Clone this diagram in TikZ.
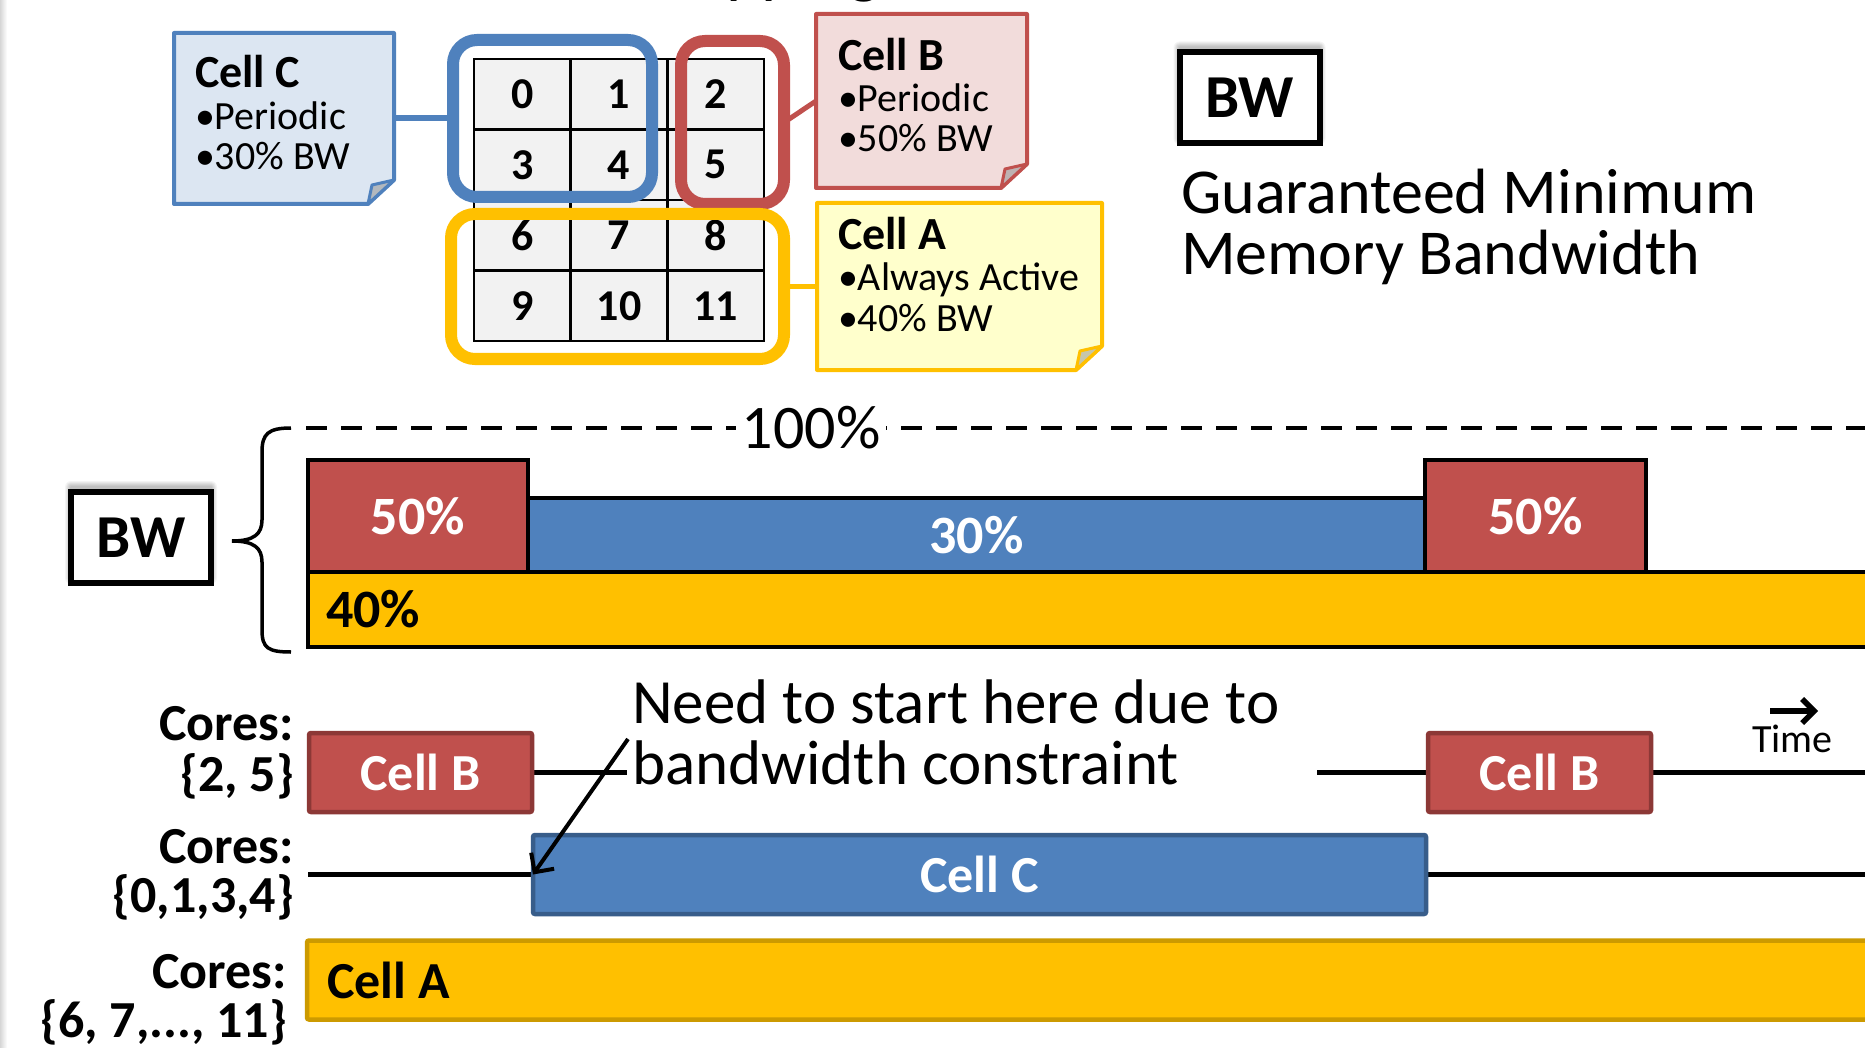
\documentclass[tikz,border=0pt]{standalone}
\usepackage{fontspec}
\setmainfont{Carlito}
\usetikzlibrary{arrows.meta,calc,backgrounds}

\definecolor{cred}{HTML}{C0504D}
\definecolor{credd}{HTML}{8C3836}
\definecolor{cblue}{HTML}{4F81BD}
\definecolor{cblued}{HTML}{385D8A}
\definecolor{cyel}{HTML}{FFC000}
\definecolor{cyeld}{HTML}{CC9A00}
\definecolor{nred}{HTML}{F2DCDB}
\definecolor{nblue}{HTML}{DCE6F2}
\definecolor{nyel}{HTML}{FFFFCC}
\definecolor{cellgray}{HTML}{F2F2F2}

\newcommand\fsz[1]{\fontsize{#1}{#1}\selectfont}

% sticky note with a folded bottom-right corner, drawn round a named frame node
\newcommand\foldnote[3]{%
  \filldraw[fill=#2, draw=#3, line width=4pt, line join=round]
    (#1.north west) -- (#1.north east) -- ([yshift=24pt]#1.south east)
    -- ([xshift=-26pt]#1.south east) -- (#1.south west) -- cycle;
  \filldraw[fill=#2!55!gray, draw=#3, line width=3pt, line join=round]
    ([yshift=24pt]#1.south east) -- ([xshift=-22pt,yshift=19pt]#1.south east)
    -- ([xshift=-26pt]#1.south east) -- cycle;
}

% soft shadow behind a boxed label
\newcommand\softshadow[1]{%
  \begin{scope}[on background layer]
    \foreach \k in {1,...,6}{
      \fill[black, opacity=0.045, rounded corners=\k pt]
        ([xshift=-\k pt, yshift=5pt+\k pt]#1.north west) rectangle
        ([xshift=\k pt, yshift=5pt-\k pt]#1.south east);
    }
  \end{scope}
}

\tikzset{
  every node/.style={inner sep=0pt, outer sep=0pt},
  gridcell/.style={draw=black, line width=2.5pt, fill=cellgray,
    minimum width=96.67pt, minimum height=70.5pt, font=\fsz{44}\bfseries},
  group/.style={draw=#1, line width=12pt, rounded corners=24pt},
  noteframe/.style={draw=none},
  notetitle/.style={anchor=base west, font=\fsz{46}\bfseries},
  noteline/.style={anchor=base west, font=\fsz{40}},
  bwbox/.style={draw=black, line width=6pt, fill=white,
    minimum width=140pt, minimum height=91pt, font=\fsz{61}\bfseries},
  bwbar/.style={draw=black, line width=3.5pt, font=\fsz{54}\bfseries, text=white},
  tlbox/.style={line width=4.5pt, rounded corners=2pt, font=\fsz{52}\bfseries, text=white},
  coreslbl/.style={anchor=base east, font=\fsz{52}\bfseries},
  rowline/.style={line width=5pt},
  bigtext/.style={font=\fontsize{63}{61}\selectfont},
}

\begin{document}
\begin{tikzpicture}[x=1pt, y=-1pt]
\useasboundingbox (0,0) rectangle (1865,1048);
\begin{scope}[on background layer]
  \fill[white] (0,0) rectangle (1865,1048);
  \shade[left color=black!16, right color=white] (0,0) rectangle (7,1048);
\end{scope}

% title line running off the top edge
\node[anchor=base west, font=\fsz{68}] (ttl) at (726,-9) {pping};

% ---------------- core grid ----------------
\foreach \r in {0,...,3}{
  \foreach \c in {0,...,2}{
    \pgfmathtruncatemacro\n{3*\r+\c}
    \node[gridcell] (cell\n) at ({474+48.33+96.67*\c},{59+35.25+70.5*\r}) {\n};
  }
}

% cell groupings
\node[group=cblue, minimum width=199pt, minimum height=157pt] (grpC) at (552.5,118.5) {};
\node[group=cred,  minimum width=103pt, minimum height=163pt] (grpB) at (732.5,122.5) {};
\node[group=cyel,  minimum width=333pt, minimum height=145pt] (grpA) at (617.5,286.5) {};

% notes
\node[noteframe, minimum width=220pt, minimum height=171pt] (noteC) at (284,118.5) {};
\node[noteframe, minimum width=211pt, minimum height=174pt] (noteB) at (921.5,101) {};
\node[noteframe, minimum width=285pt, minimum height=167pt] (noteA) at (959.5,286.5) {};

\draw[cblue, line width=6pt] (noteC.east) -- (grpC.west);
\draw[cred, line width=5pt] (grpB.east) -- (noteB.west);
\draw[cyel, line width=5pt] (grpA.east) -- (noteA.west);

\foldnote{noteC}{nblue}{cblue}
\foldnote{noteB}{nred}{cred}
\foldnote{noteA}{nyel}{cyel}

\node[notetitle] (nC1) at (195,88) {Cell C};
\node[noteline]  (nC2) at (195,130) {•Periodic};
\node[noteline]  (nC3) at (195,170) {•30\% BW};

\node[notetitle] (nB1) at (838,71) {Cell B};
\node[noteline]  (nB2) at (838,112) {•Periodic};
\node[noteline]  (nB3) at (838,152) {•50\% BW};

\node[notetitle] (nA1) at (838,250) {Cell A};
\node[noteline]  (nA2) at (838,291) {•Always Active};
\node[noteline]  (nA3) at (838,332) {•40\% BW};

% legend
\node[bwbox] (bwTop) at (1249.5,98) {BW};
\softshadow{bwTop}
\node[anchor=base west, font=\fsz{64}] (gm1) at (1181,214) {Guaranteed Minimum};
\node[anchor=base west, font=\fsz{64}] (gm2) at (1181,275) {Memory Bandwidth};

% ---------------- bandwidth profile ----------------
\node[bwbox] (bwL) at (141,537.5) {BW};
\softshadow{bwL}

\coordinate (brTop) at (291,428);
\coordinate (brTip) at (232,541);
\coordinate (brBot) at (291,652);
\draw[line width=3.5pt]
  (brTop) .. controls (268,428) and (262,434) .. (262,452) -- (262,520)
  .. controls (262,534) and (254,541) .. (brTip)
  .. controls (254,541) and (262,548) .. (262,562) -- (262,630)
  .. controls (262,648) and (268,652) .. (brBot);

\coordinate (dashL) at (306,428);
\coordinate (dashR) at (1870,428);
\draw[line width=4.5pt, dash pattern=on 21pt off 14pt] (dashL) -- (dashR);
\node[fill=white, inner xsep=6pt, inner ysep=2pt, anchor=base, font=\fsz{62}] (full) at (811,448) {100\%};

\node[bwbar, fill=cyel, minimum width=1567pt, minimum height=75pt] (barA) at (1091.5,609.5) {};
\node[bwbar, fill=cblue, minimum width=897pt, minimum height=74pt] (barC) at (976.5,535) {30\%};
\node[bwbar, fill=cred, minimum width=220pt, minimum height=112pt] (barB1) at (418,516) {50\%};
\node[bwbar, fill=cred, minimum width=221pt, minimum height=112pt] (barB2) at (1535.5,516) {50\%};
\node[anchor=west, font=\fsz{54}\bfseries] (lbl40) at ([xshift=18pt]barA.west) {40\%};

% ---------------- schedule ----------------
\node[coreslbl] (cr1a) at (294,740) {Cores:};
\node[coreslbl] (cr1b) at (294,791) {\{2, 5\}};
\node[coreslbl] (cr2a) at (294,863) {Cores:};
\node[coreslbl] (cr2b) at (294,912) {\{0,1,3,4\}};
\node[coreslbl] (cr3a) at (287,988) {Cores:};
\node[coreslbl] (cr3b) at (287,1037) {\{6, 7,..., 11\}};

\node[tlbox, fill=cred, draw=credd, minimum width=223pt, minimum height=79pt] (tlB1) at (420.5,772.5) {Cell B};
\node[tlbox, fill=cred, draw=credd, minimum width=223pt, minimum height=79pt] (tlB2) at (1539.5,772.5) {Cell B};
\node[tlbox, fill=cblue, draw=cblued, minimum width=893pt, minimum height=79pt] (tlC) at (979.5,874.5) {Cell C};
\node[tlbox, fill=cyel, draw=cyeld, minimum width=1573pt, minimum height=79pt] (tlA) at (1093.5,980) {};
\node[anchor=west, font=\fsz{52}\bfseries] (tlAlbl) at ([xshift=20pt]tlA.west) {Cell A};

\coordinate (rowOneEnd) at (1870,772.5);
\coordinate (rowTwoStart) at (308,874.5);
\coordinate (rowTwoEnd) at (1870,874.5);
\begin{scope}[on background layer]
  \draw[rowline] (tlB1.east) -- (tlB2.west);
  \draw[rowline] (tlB2.east) -- (rowOneEnd);
  \draw[rowline] (rowTwoStart) -- (tlC.west);
  \draw[rowline] (tlC.east) -- (rowTwoEnd);
\end{scope}

% annotation: white text box that interrupts the Cell B row line
\node[bigtext, align=left, anchor=west] (need) at (632,732.5) {Need to start here due to\\bandwidth constraint};
\coordinate (needEdge) at (1317,0);
\begin{scope}[on background layer]
  \fill[white] ([xshift=-5pt,yshift=3pt]need.north west) rectangle ([yshift=-3pt]need.south -| needEdge);
\end{scope}

\coordinate (arrowTail) at (628,739);
\draw[line width=4pt, -{Straight Barb[length=14pt,width=28pt]}] (arrowTail) -- (tlC.west);

\coordinate (timeA) at (1770,711);
\coordinate (timeB) at (1818,711);
\draw[line width=5.5pt, -{Straight Barb[length=12pt,width=24pt]}] (timeA) -- (timeB);
\node[anchor=base west, font=\fsz{40}] (timelbl) at (1752,752) {Time};
\end{tikzpicture}
\end{document}
